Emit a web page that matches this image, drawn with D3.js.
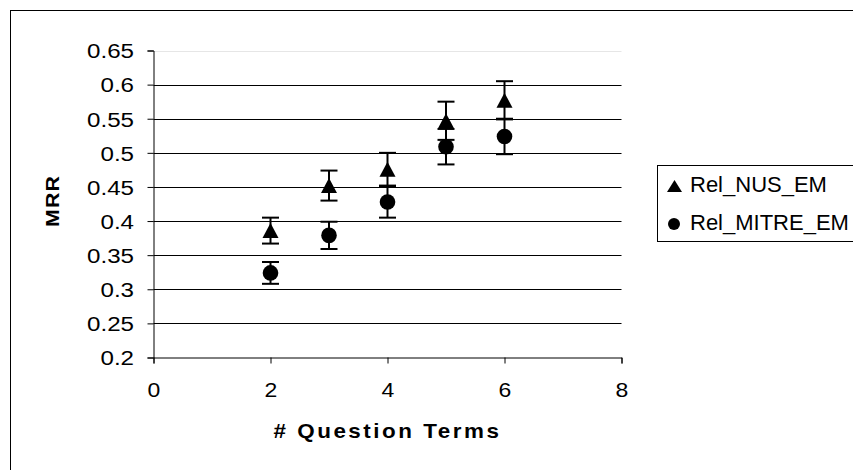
<!DOCTYPE html>
<html>
<head>
<meta charset="utf-8">
<script src="https://cdn.jsdelivr.net/npm/d3@7"></script>
<style>
body { margin: 0; background: #fff; }
svg { display: block; }
text { font-family: "Liberation Sans", Arial, sans-serif; fill: #000; }
</style>
</head>
<body>
<svg id="chart" width="853" height="470"></svg>
<script>
// data
var questionTerms = [2, 3, 4, 5, 6];
var nusMRR   = [0.386, 0.452, 0.476, 0.547, 0.577];
var nusErr   = [0.019, 0.022, 0.024, 0.028, 0.028];
var mitreMRR = [0.324, 0.379, 0.428, 0.509, 0.524];
var mitreErr = [0.016, 0.020, 0.023, 0.026, 0.026];
var seriesNames = ["Rel_NUS_EM", "Rel_MITRE_EM"];
var xTicks = [0, 2, 4, 6, 8];
var yTicks = [0.2, 0.25, 0.3, 0.35, 0.4, 0.45, 0.5, 0.55, 0.6, 0.65];
var xTitle = "# Question Terms", yTitle = "MRR";

var width = 853, height = 470;
var marginLeft = 153.5, marginTop = 50.5, plotW = 468, plotH = 307;
var stretch = 1.15; // the excel text is a bit wider than plain arial

var svg = d3.select("#chart");

// outer chart border (runs off the right and bottom edge)
svg.append("rect")
  .attr("x", 10.5).attr("y", 10.5)
  .attr("width", 900).attr("height", 500)
  .attr("fill", "#fff").attr("stroke", "#000").attr("stroke-width", 1);

var x = d3.scaleLinear().domain([0, 8]).range([marginLeft, marginLeft + plotW]);
var y = d3.scaleLinear().domain([0.2, 0.65]).range([marginTop + plotH, marginTop]);

// gridlines
svg.append("g").selectAll("line")
  .data(yTicks.filter(function(d) { return d > 0.2; }))
  .enter().append("line")
  .attr("x1", marginLeft).attr("x2", marginLeft + plotW)
  .attr("y1", function(d) { return Math.round(y(d)) + 0.5; })
  .attr("y2", function(d) { return Math.round(y(d)) + 0.5; })
  .attr("stroke", function(d) { return d > 0.6 ? "#e6e6e6" : "#000"; })
  .attr("stroke-width", 1);

// y axis
var yAxis = svg.append("g")
  .attr("transform", "translate(" + marginLeft + ",0)")
  .call(d3.axisLeft(y).tickValues(yTicks).tickSize(6)
    .tickFormat(function(d) { return String(+d.toFixed(2)); }));
yAxis.select(".domain").attr("stroke", "#000");
yAxis.selectAll(".tick line").attr("stroke", "#000");
yAxis.selectAll("text")
  .style("font-size", "21px")
  .attr("dy", "0.35em")
  .attr("x", -19.5 / stretch)
  .attr("transform", "scale(" + stretch + ",1)");

// x axis
var xAxis = svg.append("g")
  .attr("transform", "translate(0," + (marginTop + plotH) + ")")
  .call(d3.axisBottom(x).tickValues(xTicks).tickSize(6)
    .tickFormat(d3.format("d")));
xAxis.select(".domain").attr("stroke", "#000");
xAxis.selectAll(".tick line").attr("stroke", "#000");
xAxis.selectAll("text")
  .style("font-size", "20px")
  .attr("y", 39.5).attr("dy", 0)
  .attr("transform", "scale(" + stretch + ",1)");

// axis titles
svg.append("text")
  .attr("transform", "translate(" + x(4) + ",438) scale(" + stretch + ",1)")
  .attr("text-anchor", "middle")
  .style("font-size", "19.5px").style("font-weight", "bold")
  .style("letter-spacing", "2.2px")
  .text(xTitle);

svg.append("text")
  .attr("transform", "translate(59," + (marginTop + plotH / 2 - 3) + ") rotate(-90) scale(" + stretch + ",1)")
  .attr("text-anchor", "middle")
  .style("font-size", "18.5px").style("font-weight", "bold")
  .style("letter-spacing", "1px")
  .text(yTitle);

var triPath = "M0,-7.5L8,7.5L-8,7.5Z";

function errorBars(vals, errs) {
  var g = svg.append("g").attr("stroke", "#000").attr("stroke-width", 2);
  questionTerms.forEach(function(t, i) {
    var cx = x(t), lo = y(vals[i] - errs[i]), hi = y(vals[i] + errs[i]);
    g.append("line").attr("x1", cx).attr("x2", cx).attr("y1", lo).attr("y2", hi);
    g.append("line").attr("x1", cx - 8.5).attr("x2", cx + 8.5).attr("y1", lo).attr("y2", lo);
    g.append("line").attr("x1", cx - 8.5).attr("x2", cx + 8.5).attr("y1", hi).attr("y2", hi);
  });
}

errorBars(nusMRR, nusErr);
errorBars(mitreMRR, mitreErr);

svg.append("g").selectAll("path")
  .data(questionTerms)
  .enter().append("path")
  .attr("d", triPath)
  .attr("transform", function(d, i) { return "translate(" + x(d) + "," + y(nusMRR[i]) + ")"; })
  .attr("fill", "#000");

svg.append("g").selectAll("circle")
  .data(questionTerms)
  .enter().append("circle")
  .attr("cx", function(d) { return x(d); })
  .attr("cy", function(d, i) { return y(mitreMRR[i]); })
  .attr("r", 7.8)
  .attr("fill", "#000");

// legend
var legend = svg.append("g");
legend.append("rect")
  .attr("x", 657.5).attr("y", 165.5)
  .attr("width", 260).attr("height", 76)
  .attr("fill", "#fff").attr("stroke", "#000").attr("stroke-width", 1);

legend.append("path")
  .attr("d", "M0,-6L7.5,6L-7.5,6Z")
  .attr("transform", "translate(674.5,186)")
  .attr("fill", "#000");
legend.append("circle")
  .attr("cx", 674).attr("cy", 224).attr("r", 6).attr("fill", "#000");

legend.selectAll("text")
  .data(seriesNames)
  .enter().append("text")
  .attr("x", 690)
  .attr("y", function(d, i) { return 192 + i * 38; })
  .style("font-size", "22px")
  .text(function(d) { return d; });
</script>
</body>
</html>
